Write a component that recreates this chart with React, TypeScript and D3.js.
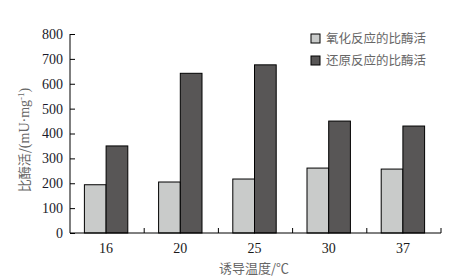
import React, { useEffect, useRef } from 'react';
import * as d3 from 'd3';

const temps = ['16', '20', '25', '30', '37'];
const oxidation = [194, 205, 217, 261, 257];
const reduction = [350, 642, 676, 450, 430];
const seriesNames = ['氧化反应的比酶活', '还原反应的比酶活'];
const yTicks = [0, 100, 200, 300, 400, 500, 600, 700, 800];

const App = () => {
  const ref = useRef<SVGSVGElement>(null);

  useEffect(() => {
    const svg = d3.select(ref.current);
    svg.selectAll('*').remove();

    const left = 70, right = 441, top = 34, bottom = 233;
    const serif = '"Liberation Serif", "Times New Roman", serif';
    const cjk = '"Noto Sans CJK SC", sans-serif';
    const colors = ['#c9cbca', '#585656'];

    const x = d3.scaleBand().domain(temps).range([left, right]).paddingInner(0).paddingOuter(0);
    const y = d3.scaleLinear().domain([0, 800]).range([bottom, top]);
    const barW = 21.7;

    // bars
    const rows = temps.map((t, i) => ({ t, vals: [oxidation[i], reduction[i]] }));
    rows.forEach(r => {
      const cx = x(r.t)! + x.bandwidth() / 2 - 1;
      r.vals.forEach((v, k) => {
        svg.append('rect')
          .attr('x', cx - barW + k * barW)
          .attr('y', y(v))
          .attr('width', barW)
          .attr('height', y(0) - y(v))
          .attr('fill', colors[k])
          .attr('stroke', '#000')
          .attr('stroke-width', 1);
      });
    });

    // y axis
    const ya = svg.append('g')
      .attr('transform', `translate(${left},0)`)
      .call(d3.axisRight(y).tickValues(yTicks).tickSize(5).tickFormat(() => ''));
    ya.select('.domain').remove();
    ya.selectAll('.tick line').attr('stroke', '#000');
    svg.append('line').attr('x1', left).attr('x2', left).attr('y1', top).attr('y2', bottom)
      .attr('stroke', '#000');
    svg.selectAll('.ylab').data(yTicks).enter().append('text')
      .attr('x', 63).attr('y', d => y(d)).attr('dy', '0.35em')
      .attr('text-anchor', 'end')
      .attr('font-family', serif).attr('font-size', 14).attr('fill', '#1a1a2a')
      .text(d => d);

    // x axis
    svg.append('line').attr('x1', left).attr('x2', right).attr('y1', bottom).attr('y2', bottom)
      .attr('stroke', '#000');
    temps.forEach((t, i) => {
      const bx = x(t)! + x.bandwidth();
      svg.append('line').attr('x1', bx).attr('x2', bx).attr('y1', bottom).attr('y2', bottom - 5)
        .attr('stroke', '#000');
      svg.append('text')
        .attr('x', x(t)! + x.bandwidth() / 2 - 1).attr('y', 253)
        .attr('text-anchor', 'middle')
        .attr('font-family', serif).attr('font-size', 14).attr('fill', '#1a1a1a')
        .text(t);
    });

    // titles
    svg.append('text')
      .attr('x', 254).attr('y', 273)
      .attr('text-anchor', 'middle')
      .attr('font-family', cjk).attr('font-size', 13).attr('fill', '#666')
      .text('诱导温度/℃');

    const yt = svg.append('text')
      .attr('transform', 'translate(29,140) rotate(-90)')
      .attr('text-anchor', 'middle')
      .attr('font-family', cjk).attr('font-size', 13).attr('fill', '#666');
    yt.append('tspan').text('比酶活/');
    yt.append('tspan').attr('font-family', serif).attr('font-size', 14).text('(mU·mg');
    yt.append('tspan').attr('font-family', serif).attr('dy', -5).attr('font-size', 9).text('-1');
    yt.append('tspan').attr('font-family', serif).attr('font-size', 14).attr('dy', 5).text(')');

    // legend
    seriesNames.forEach((name, k) => {
      const ly = 34 + k * 22;
      svg.append('rect')
        .attr('x', 311).attr('y', ly).attr('width', 9).attr('height', 9)
        .attr('fill', colors[k]).attr('stroke', '#000').attr('stroke-width', 1);
      svg.append('text')
        .attr('x', 326).attr('y', ly + 4.5).attr('dy', '0.35em')
        .attr('font-family', cjk).attr('font-size', 12.5).attr('fill', '#666')
        .text(name);
    });
  }, []);

  return (
    <svg ref={ref} width={452} height={280}
      style={{ position: 'absolute', left: 0, top: 0, background: '#fff' }} />
  );
};

export default App;
